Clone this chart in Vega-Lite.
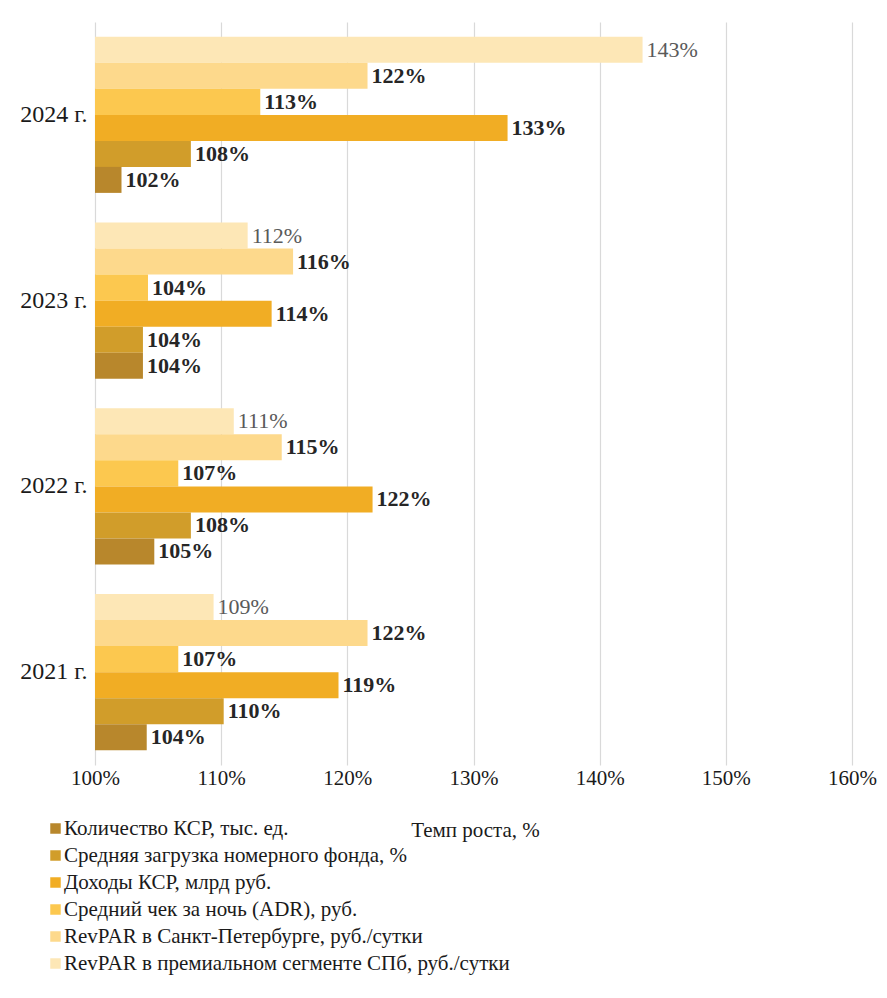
{
  "$schema": "https://vega.github.io/schema/vega-lite/v6.json",
  "autosize": {"type": "none"},
  "padding": {"left": 95, "top": 22, "right": 35, "bottom": 233},
  "width": 757,
  "height": 743,
  "background": "white",
  "config": {
    "font": "Liberation Serif",
    "view": {"stroke": null}
  },
  "data": {
    "values": [
      {"year": "2024 г.", "series": "RevPAR в премиальном сегменте СПб, руб./сутки", "ord": 6, "value": 1.434},
      {"year": "2024 г.", "series": "RevPAR в Санкт-Петербурге, руб./сутки", "ord": 5, "value": 1.216},
      {"year": "2024 г.", "series": "Средний чек за ночь (ADR), руб.", "ord": 4, "value": 1.131},
      {"year": "2024 г.", "series": "Доходы КСР, млрд руб.", "ord": 3, "value": 1.327},
      {"year": "2024 г.", "series": "Средняя загрузка номерного фонда, %", "ord": 2, "value": 1.076},
      {"year": "2024 г.", "series": "Количество КСР, тыс. ед.", "ord": 1, "value": 1.021},
      {"year": "2023 г.", "series": "RevPAR в премиальном сегменте СПб, руб./сутки", "ord": 6, "value": 1.121},
      {"year": "2023 г.", "series": "RevPAR в Санкт-Петербурге, руб./сутки", "ord": 5, "value": 1.157},
      {"year": "2023 г.", "series": "Средний чек за ночь (ADR), руб.", "ord": 4, "value": 1.042},
      {"year": "2023 г.", "series": "Доходы КСР, млрд руб.", "ord": 3, "value": 1.140},
      {"year": "2023 г.", "series": "Средняя загрузка номерного фонда, %", "ord": 2, "value": 1.038},
      {"year": "2023 г.", "series": "Количество КСР, тыс. ед.", "ord": 1, "value": 1.038},
      {"year": "2022 г.", "series": "RevPAR в премиальном сегменте СПб, руб./сутки", "ord": 6, "value": 1.110},
      {"year": "2022 г.", "series": "RevPAR в Санкт-Петербурге, руб./сутки", "ord": 5, "value": 1.148},
      {"year": "2022 г.", "series": "Средний чек за ночь (ADR), руб.", "ord": 4, "value": 1.066},
      {"year": "2022 г.", "series": "Доходы КСР, млрд руб.", "ord": 3, "value": 1.220},
      {"year": "2022 г.", "series": "Средняя загрузка номерного фонда, %", "ord": 2, "value": 1.076},
      {"year": "2022 г.", "series": "Количество КСР, тыс. ед.", "ord": 1, "value": 1.047},
      {"year": "2021 г.", "series": "RevPAR в премиальном сегменте СПб, руб./сутки", "ord": 6, "value": 1.094},
      {"year": "2021 г.", "series": "RevPAR в Санкт-Петербурге, руб./сутки", "ord": 5, "value": 1.216},
      {"year": "2021 г.", "series": "Средний чек за ночь (ADR), руб.", "ord": 4, "value": 1.066},
      {"year": "2021 г.", "series": "Доходы КСР, млрд руб.", "ord": 3, "value": 1.193},
      {"year": "2021 г.", "series": "Средняя загрузка номерного фонда, %", "ord": 2, "value": 1.102},
      {"year": "2021 г.", "series": "Количество КСР, тыс. ед.", "ord": 1, "value": 1.041}
    ]
  },
  "encoding": {
    "y": {
      "field": "year",
      "type": "nominal",
      "sort": ["2024 г.", "2023 г.", "2022 г.", "2021 г."],
      "scale": {"paddingInner": 0.16, "paddingOuter": 0.08},
      "axis": {
        "title": null,
        "ticks": false,
        "domain": false,
        "labelFont": "Liberation Serif",
        "labelFontSize": 24,
        "labelColor": "#1a1a1a",
        "labelPadding": 8
      }
    },
    "yOffset": {
      "field": "ord",
      "type": "ordinal",
      "sort": "descending",
      "scale": {"paddingInner": 0, "paddingOuter": 0}
    },
    "x": {
      "field": "value",
      "type": "quantitative",
      "scale": {"domain": [1, 1.6], "zero": false, "nice": false, "clamp": true},
      "axis": {
        "format": ".0%",
        "values": [1, 1.1, 1.2, 1.3, 1.4, 1.5, 1.6],
        "grid": true,
        "gridColor": "#d9d9d9",
        "gridWidth": 1.2,
        "domain": false,
        "ticks": false,
        "labelFlush": false,
        "labelFont": "Liberation Serif",
        "labelFontSize": 21,
        "labelColor": "#1a1a1a",
        "labelPadding": 2,
        "title": "Темп роста, %",
        "titleFont": "Liberation Serif",
        "titleFontSize": 21,
        "titleFontWeight": "normal",
        "titleColor": "#1a1a1a",
        "titleX": 380,
        "titleY": 71,
        "titleAlign": "center",
        "titleBaseline": "alphabetic"
      }
    }
  },
  "layer": [
    {
      "mark": {"type": "bar"},
      "encoding": {
        "x2": {"datum": 1},
        "color": {
          "field": "series",
          "type": "nominal",
          "scale": {
            "domain": [
              "Количество КСР, тыс. ед.",
              "Средняя загрузка номерного фонда, %",
              "Доходы КСР, млрд руб.",
              "Средний чек за ночь (ADR), руб.",
              "RevPAR в Санкт-Петербурге, руб./сутки",
              "RevPAR в премиальном сегменте СПб, руб./сутки"
            ],
            "range": ["#b8872c", "#d19d2a", "#f1ad24", "#fcc84f", "#fdd98c", "#fde7b6"]
          },
          "legend": {
            "title": null,
            "orient": "none",
            "legendX": -50,
            "legendY": 796,
            "direction": "vertical",
            "symbolType": "square",
            "symbolSize": 110,
            "symbolStrokeWidth": 0,
            "labelFont": "Liberation Serif",
            "labelFontSize": 21,
            "labelColor": "#1a1a1a",
            "labelOffset": -2,
            "labelLimit": 600,
            "rowPadding": 5
          }
        }
      }
    },
    {
      "transform": [{"filter": "datum.ord != 6"}],
      "mark": {"type": "text", "align": "left", "baseline": "middle", "dx": 4, "fontSize": 22, "fontWeight": "bold", "font": "Liberation Serif", "color": "#262626"},
      "encoding": {
        "text": {"field": "value", "type": "quantitative", "format": ".0%"}
      }
    },
    {
      "transform": [{"filter": "datum.ord == 6"}],
      "mark": {"type": "text", "align": "left", "baseline": "middle", "dx": 4, "fontSize": 22, "fontWeight": "normal", "font": "Liberation Serif", "color": "#5a5a5a"},
      "encoding": {
        "text": {"field": "value", "type": "quantitative", "format": ".0%"}
      }
    }
  ]
}
